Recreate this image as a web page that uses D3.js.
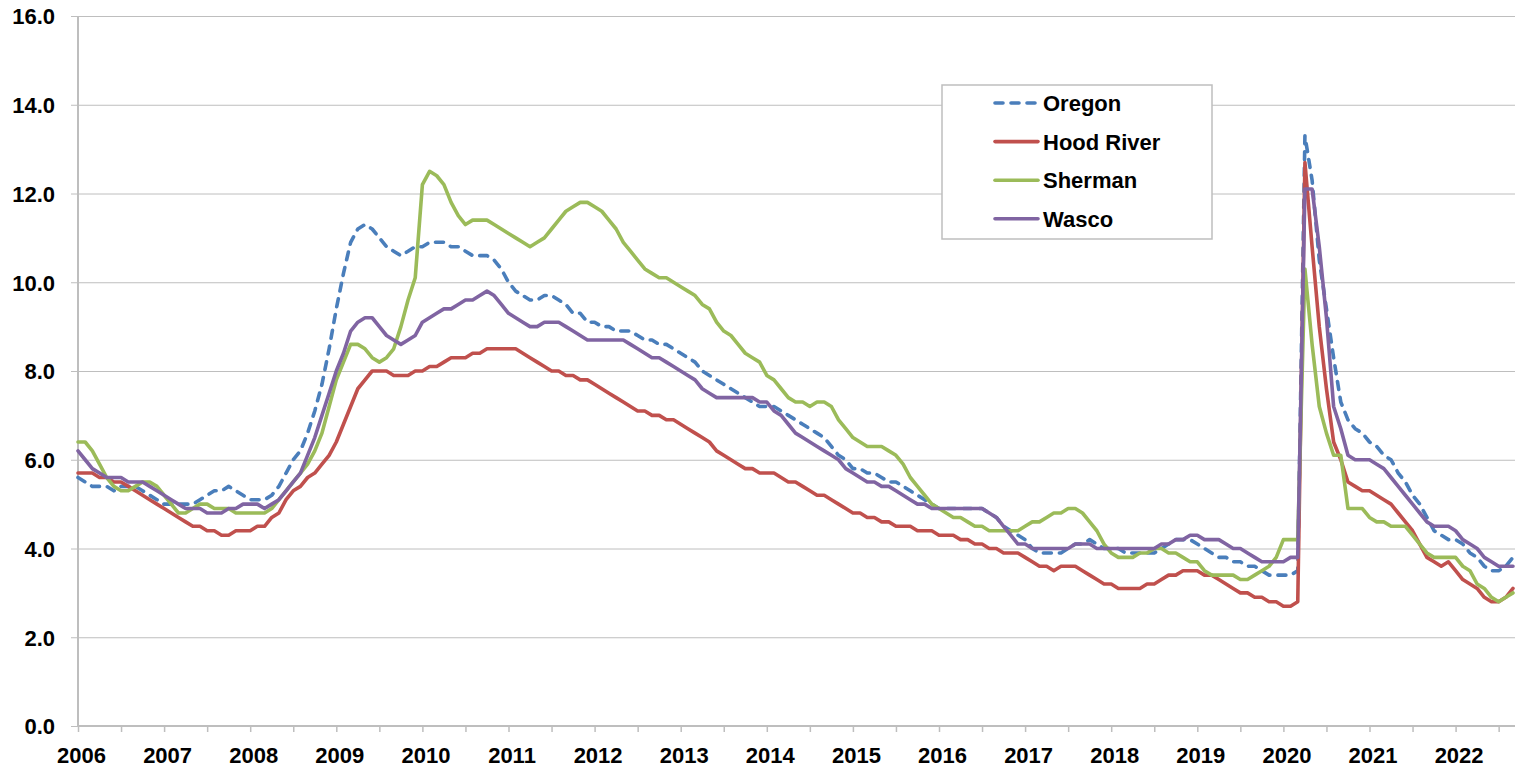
<!DOCTYPE html>
<html>
<head>
<meta charset="utf-8">
<script src="https://cdn.jsdelivr.net/npm/d3@7/dist/d3.min.js"></script>
<style>
  body { margin: 0; background: #fff; }
  svg text { font-family: "Liberation Sans", Arial, sans-serif; font-weight: bold; fill: #000; }
</style>
</head>
<body>
<div id="chart"></div>
<script>
// monthly unemployment rate, Jan 2006 - Sep 2022
const oregon = [
  5.6, 5.5, 5.4, 5.4, 5.4, 5.3, 5.4, 5.4, 5.4, 5.3, 5.2, 5.1,
  5.0, 5.0, 5.0, 5.0, 5.0, 5.1, 5.2, 5.3, 5.3, 5.4, 5.3, 5.2,
  5.1, 5.1, 5.1, 5.2, 5.4, 5.7, 6.0, 6.2, 6.6, 7.1, 7.7, 8.5,
  9.4, 10.2, 10.9, 11.2, 11.3, 11.2, 11.0, 10.8, 10.7, 10.6, 10.7, 10.8,
  10.8, 10.9, 10.9, 10.9, 10.8, 10.8, 10.7, 10.6, 10.6, 10.6, 10.5, 10.3,
  10.0, 9.8, 9.7, 9.6, 9.6, 9.7, 9.7, 9.6, 9.5, 9.3, 9.3, 9.1,
  9.1, 9.0, 9.0, 8.9, 8.9, 8.9, 8.8, 8.7, 8.7, 8.6, 8.6, 8.5,
  8.4, 8.3, 8.2, 8.0, 7.9, 7.8, 7.7, 7.6, 7.5, 7.4, 7.3, 7.2,
  7.2, 7.2, 7.1, 7.0, 6.9, 6.8, 6.7, 6.6, 6.5, 6.3, 6.1, 6.0,
  5.8, 5.8, 5.7, 5.7, 5.6, 5.5, 5.5, 5.4, 5.3, 5.2, 5.1, 5.0,
  4.9, 4.9, 4.9, 4.9, 4.9, 4.9, 4.9, 4.8, 4.7, 4.5, 4.4, 4.3,
  4.2, 4.0, 3.9, 3.9, 3.9, 3.9, 4.0, 4.1, 4.1, 4.2, 4.1, 4.0,
  4.0, 4.0, 3.9, 3.9, 3.9, 3.9, 3.9, 4.0, 4.1, 4.2, 4.2, 4.2,
  4.1, 4.0, 3.9, 3.8, 3.8, 3.7, 3.7, 3.6, 3.6, 3.5, 3.4, 3.4,
  3.4, 3.4, 3.5, 13.3, 12.3, 10.5, 9.4, 8.3, 7.3, 6.9, 6.7, 6.6,
  6.4, 6.3, 6.1, 6.0, 5.7, 5.5, 5.2, 5.0, 4.7, 4.4, 4.3, 4.2,
  4.2, 4.1, 3.9, 3.8, 3.6, 3.5, 3.5, 3.6, 3.8
];
const hoodRiver = [
  5.7, 5.7, 5.7, 5.6, 5.6, 5.5, 5.5, 5.4, 5.3, 5.2, 5.1, 5.0,
  4.9, 4.8, 4.7, 4.6, 4.5, 4.5, 4.4, 4.4, 4.3, 4.3, 4.4, 4.4,
  4.4, 4.5, 4.5, 4.7, 4.8, 5.1, 5.3, 5.4, 5.6, 5.7, 5.9, 6.1,
  6.4, 6.8, 7.2, 7.6, 7.8, 8.0, 8.0, 8.0, 7.9, 7.9, 7.9, 8.0,
  8.0, 8.1, 8.1, 8.2, 8.3, 8.3, 8.3, 8.4, 8.4, 8.5, 8.5, 8.5,
  8.5, 8.5, 8.4, 8.3, 8.2, 8.1, 8.0, 8.0, 7.9, 7.9, 7.8, 7.8,
  7.7, 7.6, 7.5, 7.4, 7.3, 7.2, 7.1, 7.1, 7.0, 7.0, 6.9, 6.9,
  6.8, 6.7, 6.6, 6.5, 6.4, 6.2, 6.1, 6.0, 5.9, 5.8, 5.8, 5.7,
  5.7, 5.7, 5.6, 5.5, 5.5, 5.4, 5.3, 5.2, 5.2, 5.1, 5.0, 4.9,
  4.8, 4.8, 4.7, 4.7, 4.6, 4.6, 4.5, 4.5, 4.5, 4.4, 4.4, 4.4,
  4.3, 4.3, 4.3, 4.2, 4.2, 4.1, 4.1, 4.0, 4.0, 3.9, 3.9, 3.9,
  3.8, 3.7, 3.6, 3.6, 3.5, 3.6, 3.6, 3.6, 3.5, 3.4, 3.3, 3.2,
  3.2, 3.1, 3.1, 3.1, 3.1, 3.2, 3.2, 3.3, 3.4, 3.4, 3.5, 3.5,
  3.5, 3.4, 3.4, 3.3, 3.2, 3.1, 3.0, 3.0, 2.9, 2.9, 2.8, 2.8,
  2.7, 2.7, 2.8, 12.7, 10.8, 9.0, 7.6, 6.4, 6.0, 5.5, 5.4, 5.3,
  5.3, 5.2, 5.1, 5.0, 4.8, 4.6, 4.4, 4.1, 3.8, 3.7, 3.6, 3.7,
  3.5, 3.3, 3.2, 3.1, 2.9, 2.8, 2.8, 2.9, 3.1
];
const sherman = [
  6.4, 6.4, 6.2, 5.9, 5.6, 5.4, 5.3, 5.3, 5.4, 5.5, 5.5, 5.4,
  5.2, 5.0, 4.8, 4.8, 4.9, 5.0, 5.0, 4.9, 4.9, 4.9, 4.8, 4.8,
  4.8, 4.8, 4.8, 4.9, 5.1, 5.3, 5.5, 5.7, 5.9, 6.2, 6.6, 7.2,
  7.8, 8.2, 8.6, 8.6, 8.5, 8.3, 8.2, 8.3, 8.5, 9.0, 9.6, 10.1,
  12.2, 12.5, 12.4, 12.2, 11.8, 11.5, 11.3, 11.4, 11.4, 11.4, 11.3, 11.2,
  11.1, 11.0, 10.9, 10.8, 10.9, 11.0, 11.2, 11.4, 11.6, 11.7, 11.8, 11.8,
  11.7, 11.6, 11.4, 11.2, 10.9, 10.7, 10.5, 10.3, 10.2, 10.1, 10.1, 10.0,
  9.9, 9.8, 9.7, 9.5, 9.4, 9.1, 8.9, 8.8, 8.6, 8.4, 8.3, 8.2,
  7.9, 7.8, 7.6, 7.4, 7.3, 7.3, 7.2, 7.3, 7.3, 7.2, 6.9, 6.7,
  6.5, 6.4, 6.3, 6.3, 6.3, 6.2, 6.1, 5.9, 5.6, 5.4, 5.2, 5.0,
  4.9, 4.8, 4.7, 4.7, 4.6, 4.5, 4.5, 4.4, 4.4, 4.4, 4.4, 4.4,
  4.5, 4.6, 4.6, 4.7, 4.8, 4.8, 4.9, 4.9, 4.8, 4.6, 4.4, 4.1,
  3.9, 3.8, 3.8, 3.8, 3.9, 3.9, 4.0, 4.0, 3.9, 3.9, 3.8, 3.7,
  3.7, 3.5, 3.4, 3.4, 3.4, 3.4, 3.3, 3.3, 3.4, 3.5, 3.6, 3.8,
  4.2, 4.2, 4.2, 10.3, 8.6, 7.2, 6.6, 6.1, 6.1, 4.9, 4.9, 4.9,
  4.7, 4.6, 4.6, 4.5, 4.5, 4.5, 4.3, 4.1, 3.9, 3.8, 3.8, 3.8,
  3.8, 3.6, 3.5, 3.2, 3.1, 2.9, 2.8, 2.9, 3.0
];
const wasco = [
  6.2, 6.0, 5.8, 5.7, 5.6, 5.6, 5.6, 5.5, 5.5, 5.5, 5.4, 5.3,
  5.2, 5.1, 5.0, 4.9, 4.9, 4.9, 4.8, 4.8, 4.8, 4.9, 4.9, 5.0,
  5.0, 5.0, 4.9, 5.0, 5.1, 5.3, 5.5, 5.7, 6.1, 6.5, 7.0, 7.5,
  8.0, 8.4, 8.9, 9.1, 9.2, 9.2, 9.0, 8.8, 8.7, 8.6, 8.7, 8.8,
  9.1, 9.2, 9.3, 9.4, 9.4, 9.5, 9.6, 9.6, 9.7, 9.8, 9.7, 9.5,
  9.3, 9.2, 9.1, 9.0, 9.0, 9.1, 9.1, 9.1, 9.0, 8.9, 8.8, 8.7,
  8.7, 8.7, 8.7, 8.7, 8.7, 8.6, 8.5, 8.4, 8.3, 8.3, 8.2, 8.1,
  8.0, 7.9, 7.8, 7.6, 7.5, 7.4, 7.4, 7.4, 7.4, 7.4, 7.4, 7.3,
  7.3, 7.1, 7.0, 6.8, 6.6, 6.5, 6.4, 6.3, 6.2, 6.1, 6.0, 5.8,
  5.7, 5.6, 5.5, 5.5, 5.4, 5.4, 5.3, 5.2, 5.1, 5.0, 5.0, 4.9,
  4.9, 4.9, 4.9, 4.9, 4.9, 4.9, 4.9, 4.8, 4.7, 4.5, 4.3, 4.1,
  4.1, 4.0, 4.0, 4.0, 4.0, 4.0, 4.0, 4.1, 4.1, 4.1, 4.0, 4.0,
  4.0, 4.0, 4.0, 4.0, 4.0, 4.0, 4.0, 4.1, 4.1, 4.2, 4.2, 4.3,
  4.3, 4.2, 4.2, 4.2, 4.1, 4.0, 4.0, 3.9, 3.8, 3.7, 3.7, 3.7,
  3.7, 3.8, 3.8, 12.1, 12.1, 10.8, 9.2, 7.2, 6.7, 6.1, 6.0, 6.0,
  6.0, 5.9, 5.8, 5.6, 5.4, 5.2, 5.0, 4.8, 4.6, 4.5, 4.5, 4.5,
  4.4, 4.2, 4.1, 4.0, 3.8, 3.7, 3.6, 3.6, 3.6
];

const seriesNames = ['Oregon', 'Hood River', 'Sherman', 'Wasco'];
const seriesColors = ['#4a7ebb', '#c0504d', '#9bbb59', '#8064a2'];
const yearLabels = ['2006', '2007', '2008', '2009', '2010', '2011', '2012', '2013', '2014',
  '2015', '2016', '2017', '2018', '2019', '2020', '2021', '2022'];
const yTicks = [0, 2, 4, 6, 8, 10, 12, 14, 16];

(function () {
  let width = 1515;
  let height = 768;
  let margin = { top: 16, right: 2, bottom: 42, left: 78 };
  let lineWidth = 3.6;

  let series = [oregon, hoodRiver, sherman, wasco].map((values, i) => ({
    name: seriesNames[i],
    color: seriesColors[i],
    dashed: i === 0,
    values: values
  }));

  let nMonths = oregon.length;

  let xscale = d3
    .scaleLinear()
    .domain([0, nMonths - 1])
    .range([margin.left, width - margin.right]);

  let yscale = d3
    .scaleLinear()
    .domain([0, 16])
    .range([height - margin.bottom, margin.top]);

  let svg = d3
    .select('#chart')
    .append('svg')
    .attr('width', width)
    .attr('height', height);

  // horizontal gridlines + y axis
  let yAxis = svg
    .append('g')
    .attr('transform', `translate(${margin.left}, 0)`)
    .call(
      d3.axisLeft(yscale)
        .tickValues(yTicks)
        .tickFormat(d3.format('.1f'))
        .tickSize(7)
        .tickPadding(16)
    );
  yAxis.select('.domain').remove();
  yAxis.selectAll('.tick line')
    .attr('x1', -7)
    .attr('x2', width - margin.left)
    .attr('stroke', '#bebebe')
    .attr('stroke-width', 1);
  yAxis.selectAll('.tick text')
    .attr('font-size', 22)
    .attr('dy', '0.36em');

  svg.append('line')
    .attr('x1', margin.left)
    .attr('x2', margin.left)
    .attr('y1', margin.top)
    .attr('y2', height - margin.bottom)
    .attr('stroke', '#bebebe')
    .attr('stroke-width', 2);

  // x axis: ticks every 6 months, labels each January
  let xAxis = svg
    .append('g')
    .attr('transform', `translate(0, ${height - margin.bottom})`)
    .call(
      d3.axisBottom(xscale)
        .tickValues(d3.range(0, nMonths, 6))
        .tickFormat((d) => (d % 12 === 0 ? yearLabels[d / 12] : ''))
        .tickSize(6)
        .tickSizeOuter(0)
    );
  xAxis.select('.domain')
    .attr('d', `M${margin.left},0H${width}`)
    .attr('stroke', '#bebebe')
    .attr('stroke-width', 2);
  xAxis.selectAll('.tick line')
    .attr('stroke', '#bebebe')
    .attr('stroke-width', 1.5);
  xAxis.selectAll('.tick text')
    .attr('font-size', 22)
    .attr('y', 37)
    .attr('dy', 0)
    .attr('dx', 3);

  let line = d3
    .line()
    .x((d, i) => xscale(i))
    .y((d) => yscale(d));

  svg.append('g')
    .selectAll('path')
    .data(series)
    .enter()
    .append('path')
    .attr('d', (d) => line(d.values))
    .attr('fill', 'none')
    .attr('stroke', (d) => d.color)
    .attr('stroke-width', lineWidth)
    .attr('stroke-linejoin', 'round')
    .attr('stroke-linecap', 'round')
    .attr('stroke-dasharray', (d) => (d.dashed ? '8,8' : null));

  // legend
  let legend = svg.append('g').attr('transform', 'translate(942, 85)');
  legend.append('rect')
    .attr('width', 270)
    .attr('height', 154)
    .attr('fill', '#fff')
    .attr('stroke', '#bebebe')
    .attr('stroke-width', 1.5);

  let rows = legend
    .selectAll('g.row')
    .data(series)
    .enter()
    .append('g')
    .attr('class', 'row')
    .attr('transform', (d, i) => `translate(0, ${18 + i * 38.6})`);

  rows.append('line')
    .attr('x1', 53)
    .attr('x2', 96)
    .attr('stroke', (d) => d.color)
    .attr('stroke-width', lineWidth)
    .attr('stroke-linecap', 'round')
    .attr('stroke-dasharray', (d) => (d.dashed ? '8,8' : null));

  rows.append('text')
    .attr('x', 101)
    .attr('dy', '0.36em')
    .attr('font-size', 22)
    .text((d) => d.name);
})();
</script>
</body>
</html>
